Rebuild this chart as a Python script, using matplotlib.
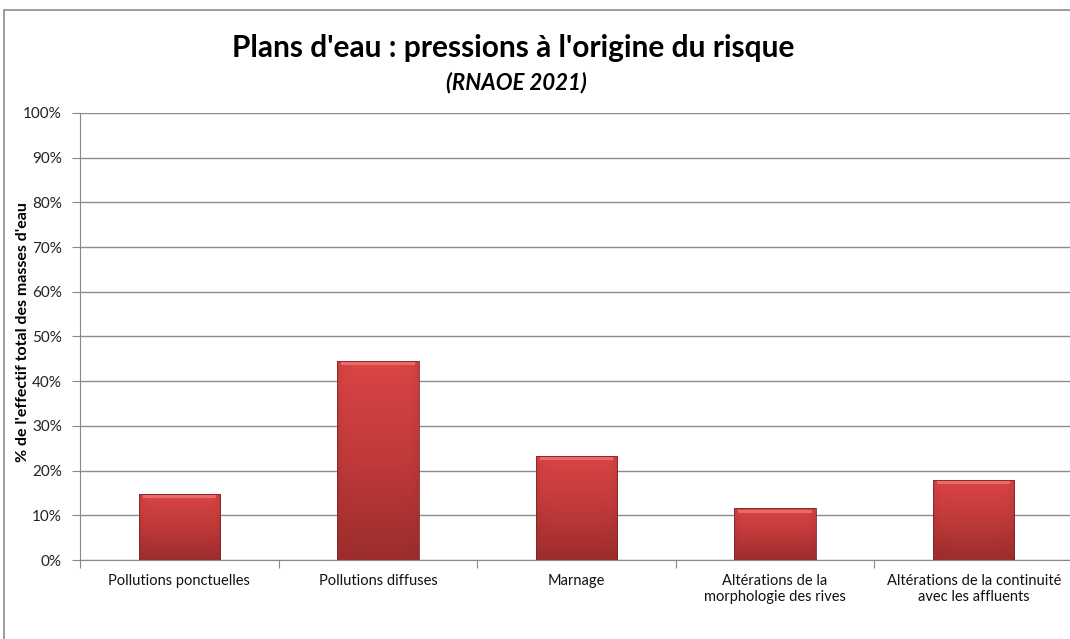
import numpy as np
import matplotlib.pyplot as plt
from matplotlib.patches import Rectangle
from matplotlib.colors import LinearSegmentedColormap

categories = ["Pollutions ponctuelles", "Pollutions diffuses", "Marnage",
              "Altérations de la\nmorphologie des rives",
              "Altérations de la continuité\navec les affluents"]
values = [14.8, 44.6, 23.3, 11.6, 18.0]
yticks = [0, 10, 20, 30, 40, 50, 60, 70, 80, 90, 100]

fam = ["Lato", "DejaVu Sans"]
fig = plt.figure(figsize=(10.7, 6.39), dpi=100)
ax = fig.add_axes([0.0748, 0.1236, 0.9280, 0.6996])

# outer chart border
fig.patches.append(Rectangle((0.004, -0.01), 1.1, 0.994, transform=fig.transFigure,
                             fill=False, edgecolor="#8c8c8c", linewidth=1.2))

x = np.arange(len(categories))
w = 0.41
cmap = LinearSegmentedColormap.from_list("bar", ["#9c2c2c", "#c03a3a", "#db4545"])
bars = ax.bar(x, values, width=w, color="none", edgecolor="#7e2626", linewidth=0.6, zorder=3)
grad = np.linspace(0, 1, 256).reshape(-1, 1)
side = np.abs(np.linspace(-1, 1, 64))
for b in bars:
    x0, y0 = b.get_x(), b.get_y()
    bw, bh = b.get_width(), b.get_height()
    img = grad * (1 - 0.3 * side[None, :] ** 8)
    im = ax.imshow(img, cmap=cmap, vmin=0, vmax=1, origin="lower", aspect="auto",
                   extent=(x0, x0 + bw, y0, y0 + bh), zorder=2)
    im.set_clip_path(b)
    # bevel highlight at top
    ax.add_patch(Rectangle((x0 + bw * 0.05, y0 + bh - 1.0), bw * 0.9, 0.7,
                           color="#f47a7a", alpha=0.7, zorder=4, linewidth=0))

ax.set_xlim(-0.5, len(categories) - 0.5)
ax.set_ylim(0, 100)
ax.set_yticks(yticks)
ax.set_yticklabels([f"{t}%" for t in yticks], family=fam, fontsize=11, color="#222222")
ax.set_xticks(np.arange(len(categories) + 1) - 0.5, minor=False)
ax.set_xticklabels([])
ax.set_xticks(x, minor=True)
ax.set_xticklabels(categories, minor=True, family=fam, fontsize=10.5, color="#111111")
ax.tick_params(axis="x", which="minor", length=0, pad=10)
ax.tick_params(axis="x", which="major", length=6, color="#888888", direction="out")
ax.tick_params(axis="y", length=6, color="#888888", direction="out", pad=7)
ax.yaxis.grid(True, color="#8c8c8c", linewidth=1)
ax.set_axisbelow(True)
for s in ["top", "right"]:
    ax.spines[s].set_visible(False)
for s in ["left", "bottom"]:
    ax.spines[s].set_color("#888888")

ax.set_ylabel("% de l'effectif total des masses d'eau", family=fam, fontweight="bold",
              fontsize=11.5)
ax.yaxis.set_label_coords(-0.050, 0.51)

fig.text(0.48, 0.925, "Plans d'eau : pressions à l'origine du risque", ha="center", va="center",
         family=fam, fontweight="bold", fontsize=21.5)
fig.text(0.483, 0.870, "(RNAOE 2021)", ha="center", va="center",
         family=fam, fontweight="bold", fontstyle="italic", fontsize=16)

fig.savefig("out.png", dpi=100)
